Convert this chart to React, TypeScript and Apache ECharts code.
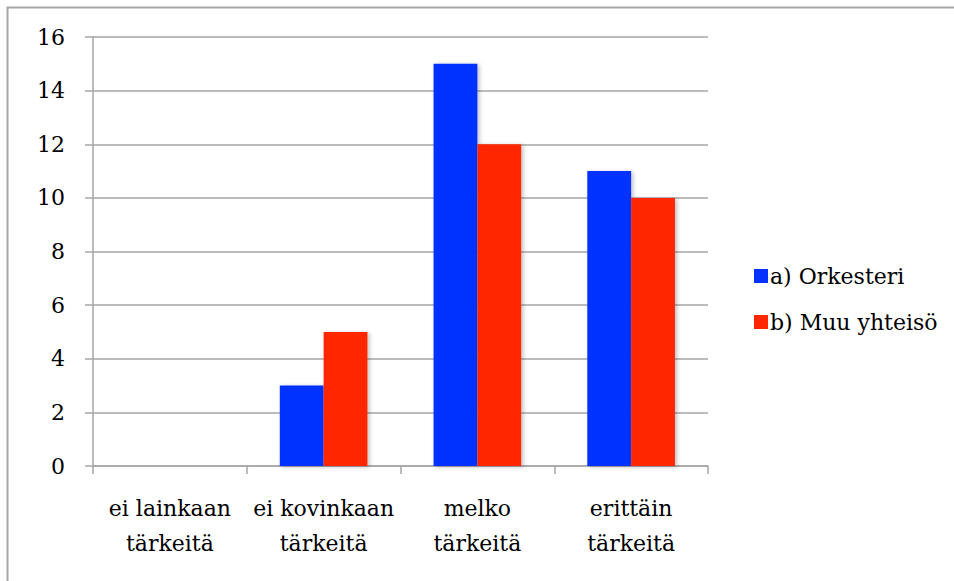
import React, { useEffect, useRef } from "react";
import * as echarts from "echarts";

const categories = ["ei lainkaan\ntärkeitä", "ei kovinkaan\ntärkeitä", "melko\ntärkeitä", "erittäin\ntärkeitä"];
const seriesNames = ["a) Orkesteri", "b) Muu yhteisö"];
const orkesteri = [0, 3, 15, 11];
const muuYhteiso = [0, 5, 12, 10];

const FONT = "DejaVu Serif";
const GRAY = "#a6a6a6";
const FS = 22;

export default function App() {
  const ref = useRef<HTMLDivElement>(null);
  useEffect(() => {
    const chart = echarts.init(ref.current!, undefined, { renderer: "svg" });
    chart.setOption({
      animation: false,
      backgroundColor: "#fff",
      textStyle: { fontFamily: FONT, color: "#000" },
      graphic: [
        {
          type: "rect",
          shape: { x: 7.5, y: 7.5, width: 1000, height: 1000 },
          style: { fill: "none", stroke: GRAY, lineWidth: 2 },
          silent: true,
        },
      ],
      grid: { left: 93, top: 37, right: 246, bottom: 115, containLabel: false },
      legend: {
        orient: "vertical",
        left: 749,
        top: 260,
        itemWidth: 14,
        itemHeight: 14,
        itemGap: 24,
        icon: "rect",
        textStyle: { fontFamily: FONT, fontSize: FS, color: "#000", padding: [0, 0, 0, -3] },
        data: seriesNames,
      },
      xAxis: {
        type: "category",
        data: categories,
        axisLine: { lineStyle: { color: GRAY, width: 1.5 } },
        axisTick: { show: true, length: 8, lineStyle: { color: GRAY, width: 1.5 } },
        axisLabel: {
          interval: 0,
          margin: 25,
          fontFamily: FONT,
          fontSize: FS,
          lineHeight: 35,
          color: "#000",
        },
      },
      yAxis: {
        type: "value",
        min: 0,
        max: 16,
        interval: 2,
        axisLine: { show: true, lineStyle: { color: GRAY, width: 1.5 } },
        axisTick: { show: true, length: 8, lineStyle: { color: GRAY, width: 1.5 } },
        splitLine: { lineStyle: { color: GRAY, width: 1.5 } },
        axisLabel: { margin: 28, fontFamily: FONT, fontSize: FS, color: "#000" },
      },
      series: [
        {
          name: seriesNames[0],
          type: "bar",
          data: orkesteri,
          barCategoryGap: "43%",
          barGap: "0%",
          itemStyle: { color: "#0433FF", shadowColor: "rgba(0,0,0,0.25)", shadowBlur: 4, shadowOffsetX: 2, shadowOffsetY: 1 },
        },
        {
          name: seriesNames[1],
          type: "bar",
          data: muuYhteiso,
          barCategoryGap: "43%",
          barGap: "0%",
          itemStyle: { color: "#FF2600", shadowColor: "rgba(0,0,0,0.25)", shadowBlur: 4, shadowOffsetX: 2, shadowOffsetY: 1 },
        },
      ],
    });
    return () => chart.dispose();
  }, []);
  return (
    <div
      ref={ref}
      style={{ position: "absolute", left: 0, top: 0, width: 954, height: 581 }}
    />
  );
}
